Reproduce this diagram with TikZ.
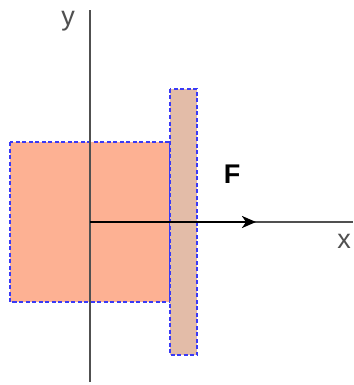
\documentclass[tikz,border=0pt]{standalone}
\usepackage{fontspec}
\setmainfont{Liberation Sans}
\usetikzlibrary{arrows.meta}
\definecolor{bigfill}{HTML}{FDB193}
\definecolor{thinfill}{HTML}{E3BCA8}
\definecolor{edgeblue}{HTML}{3A3AF5}
\definecolor{axisgray}{HTML}{505050}
\tikzset{
  part/.style={draw=edgeblue, dash pattern=on 4pt off 2.5pt, line width=1.5pt},
  axisline/.style={draw=axisgray, line width=1.3pt},
  lbl/.style={font=\fontsize{27}{27}\selectfont, text=axisgray, inner sep=0pt},
}
\begin{document}
\begin{tikzpicture}[x=1pt,y=-1pt]
\useasboundingbox (0,0) rectangle (353,385);
\fill[white] (0,0) rectangle (353,385);
\path[part, fill=bigfill] (10,142) rectangle (170,302);
\path[part, fill=thinfill] (170,89) rectangle (197,355);
\coordinate (o) at (90,222);
\coordinate (ytop) at (90,10);
\coordinate (ybot) at (90,382);
\coordinate (xend) at (353,222);
\coordinate (ftip) at (256,222);
\draw[axisline] (ybot) -- (ytop);
\draw[axisline] (o) -- (xend);
\draw[line width=2.4pt, -{Stealth[length=14pt,width=12pt,inset=4pt]}] (o) -- (ftip);
\node[lbl, anchor=base] (ylab) at (68,26) {y};
\node[lbl, anchor=base] (xlab) at (344,248) {x};
\node[lbl, anchor=base, text=black] (flab) at (232,183) {\bfseries F};
\end{tikzpicture}
\end{document}
